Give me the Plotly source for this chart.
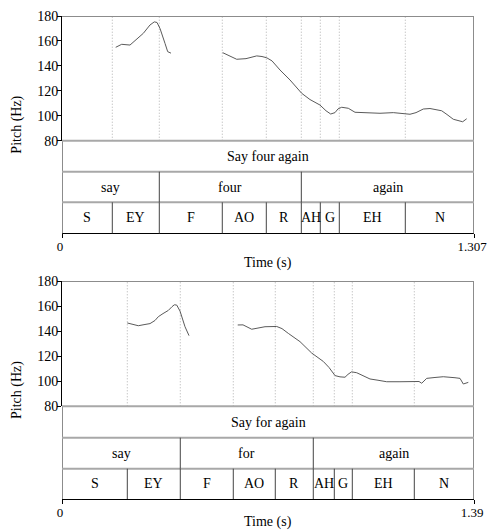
import plotly.graph_objects as go

# ---------------- data ----------------
# Chart 1: "Say four again"
dur1 = 1.307
pitch1_seg1_t = [0.1704, 0.1894, 0.2157, 0.2579, 0.2792, 0.2928, 0.3014, 0.3109, 0.3268, 0.3353, 0.3458]
pitch1_seg1_hz = [154.9, 157.3, 156.7, 166.1, 172.8, 175.3, 174.8, 170.0, 158.0, 151.4, 150.2]
pitch1_seg2_t = [0.5098, 0.5298, 0.5542, 0.5837, 0.6177, 0.6345, 0.6494, 0.6662, 0.6916, 0.7233,
                 0.7604, 0.7867, 0.8184, 0.8375, 0.8524, 0.8660, 0.8756, 0.8873, 0.9082, 0.9295,
                 0.9675, 1.0088, 1.0510, 1.0818, 1.1040, 1.1230, 1.1462, 1.1674, 1.2045, 1.2213,
                 1.2413, 1.2711, 1.2838]
pitch1_seg2_hz = [150.6, 148.0, 145.3, 145.8, 148.0, 147.5, 146.5, 144.0, 136.7, 128.7,
                  118.0, 113.0, 108.6, 104.0, 101.4, 102.5, 105.5, 106.8, 106.0, 102.8,
                  102.2, 102.0, 102.5, 101.8, 101.2, 102.5, 105.4, 105.8, 104.0, 101.0,
                  97.2, 95.2, 97.6]
sentence1 = "Say four again"
words1 = ["say", "four", "again"]
word_bounds1 = [0, 0.3087, 0.7592, 1.307]
phones1 = ["S", "EY", "F", "AO", "R", "AH", "G", "EH", "N"]
phone_bounds1 = [0, 0.1596, 0.3087, 0.5085, 0.6481, 0.7592, 0.8194, 0.8797, 1.0891, 1.307]

# Chart 2: "Say for again"
dur2 = 1.39
pitch2_seg1_t = [0.2203, 0.2362, 0.2574, 0.2800, 0.2969, 0.3138, 0.3249, 0.3408, 0.3586, 0.3711,
                 0.3789, 0.3870, 0.3981, 0.4150, 0.4285]
pitch2_seg1_hz = [146.5, 145.5, 144.3, 145.3, 146.0, 148.5, 151.5, 154.0, 156.5, 159.5,
                  161.0, 160.8, 156.0, 143.5, 136.4]
pitch2_seg2_t = [0.5928, 0.6107, 0.6400, 0.6613, 0.6849, 0.7244, 0.7422, 0.7635, 0.8030, 0.8424,
                 0.8816, 0.9008, 0.9211, 0.9379, 0.9548, 0.9649, 0.9767, 0.9943, 1.0121, 1.0391,
                 1.0661, 1.0955, 1.1403, 1.1808, 1.2045, 1.2136, 1.2304, 1.2584, 1.2864, 1.3259,
                 1.3428, 1.3539, 1.3708]
pitch2_seg2_hz = [144.9, 145.0, 141.5, 142.5, 143.5, 143.7, 142.0, 138.2, 131.6, 122.5,
                  115.8, 111.0, 104.5, 103.5, 103.2, 105.5, 107.5, 106.8, 105.0, 101.8,
                  100.8, 99.6, 99.6, 100.0, 99.8, 98.4, 102.3, 103.0, 103.6, 102.8,
                  102.3, 97.8, 99.1]
sentence2 = "Say for again"
words2 = ["say", "for", "again"]
word_bounds2 = [0, 0.3991, 0.8478, 1.39]
phones2 = ["S", "EY", "F", "AO", "R", "AH", "G", "EH", "N"]
phone_bounds2 = [0, 0.2203, 0.3991, 0.5779, 0.7196, 0.8478, 0.9187, 0.9794, 1.1886, 1.39]

pitch_ticks = [80, 100, 120, 140, 160, 180]

# ---------------- layout geometry (pixels) ----------------
W, H = 488, 531
ML, MR, MT, MB = 62, 14, 16, 32
PH = H - MT - MB


def py(p):
    """pixel y (from top) -> paper y"""
    return (H - MB - p) / PH


FONT = "Liberation Serif, Times New Roman, serif"
GRID_GREY = "#a8a8a8"
FRAME_GREY = "#8c8c8c"
CURVE = "#5a5a5a"

charts = [
    dict(dur=dur1, s1=(pitch1_seg1_t, pitch1_seg1_hz), s2=(pitch1_seg2_t, pitch1_seg2_hz),
         sentence=sentence1, words=words1, wb=word_bounds1, phones=phones1, pb=phone_bounds1,
         top=16, p80=140.7, t1=171.7, t2=202.3, t3=233.3, xlabel_y=263),
    dict(dur=dur2, s1=(pitch2_seg1_t, pitch2_seg1_hz), s2=(pitch2_seg2_t, pitch2_seg2_hz),
         sentence=sentence2, words=words2, wb=word_bounds2, phones=phones2, pb=phone_bounds2,
         top=281, p80=406.3, t1=437.7, t2=468.7, t3=499.0, xlabel_y=522),
]

fig = go.Figure()
shapes = []
annotations = []
layout_axes = {}

for i, c in enumerate(charts):
    n = "" if i == 0 else str(i + 1)
    xref = "x" + n
    yref = "y" + n
    t = list(c["s1"][0]) + [None] + list(c["s2"][0])
    v = list(c["s1"][1]) + [None] + list(c["s2"][1])
    fig.add_trace(go.Scatter(x=t, y=v, mode="lines", xaxis=xref, yaxis=yref,
                             line=dict(color=CURVE, width=1), connectgaps=False,
                             showlegend=False, hoverinfo="skip"))
    dur = c["dur"]
    layout_axes["xaxis" + n] = dict(
        domain=[0, 1], range=[0, dur], anchor="free", position=py(c["t3"]),
        tickvals=[0, dur], ticktext=["0", f"{dur:g}"], ticks="outside", ticklen=4,
        tickcolor="black", showline=True, linecolor="black", linewidth=1,
        showgrid=False, zeroline=False, automargin=False, ticklabelstandoff=-3,
        ticklabelshift=-2, ticklabeloverflow="allow",
        tickfont=dict(family=FONT, size=13, color="black"),
    )
    layout_axes["yaxis" + n] = dict(
        domain=[py(c["p80"]), py(c["top"])], range=[80, 180], anchor=xref,
        tickvals=pitch_ticks, ticks="outside", ticklen=4, tickcolor="black",
        showline=True, linecolor="black", linewidth=1, showgrid=False, zeroline=False,
        automargin=False, ticklabelstandoff=-4, ticklabeloverflow="allow",
        tickfont=dict(family=FONT, size=14, color="black"),
    )
    # dotted phone boundaries in pitch area
    for b in c["pb"][1:-1]:
        shapes.append(dict(type="line", xref=xref, yref=yref, x0=b, x1=b, y0=80, y1=180,
                           line=dict(color="#b0b0b0", width=1, dash="1px,2px"), layer="below"))
    # frame: top line, right edge, left edge of tiers
    shapes.append(dict(type="line", xref=xref, yref=yref, x0=0, x1=dur, y0=180, y1=180,
                       line=dict(color=FRAME_GREY, width=2)))
    shapes.append(dict(type="line", xref=xref, yref="paper", x0=dur, x1=dur,
                       y0=py(c["t3"]), y1=py(c["top"]), line=dict(color=FRAME_GREY, width=2)))
    shapes.append(dict(type="line", xref=xref, yref="paper", x0=0, x1=0,
                       y0=py(c["t3"]), y1=py(c["p80"]), line=dict(color=FRAME_GREY, width=2)))
    # tier separators
    for yy in (c["p80"], c["t1"], c["t2"]):
        shapes.append(dict(type="line", xref=xref, yref="paper", x0=0, x1=dur,
                           y0=py(yy), y1=py(yy), line=dict(color=GRID_GREY, width=2)))
    # word and phone boundaries
    for b in c["wb"][1:-1]:
        shapes.append(dict(type="line", xref=xref, yref="paper", x0=b, x1=b,
                           y0=py(c["t2"]), y1=py(c["t1"]), line=dict(color="#444444", width=1)))
    for b in c["pb"][1:-1]:
        shapes.append(dict(type="line", xref=xref, yref="paper", x0=b, x1=b,
                           y0=py(c["t3"]), y1=py(c["t2"]), line=dict(color="#444444", width=1)))
    # tier labels
    annotations.append(dict(text=c["sentence"], xref=xref, yref="paper", x=dur / 2,
                            y=py((c["p80"] + c["t1"]) / 2), showarrow=False,
                            yanchor="middle", font=dict(family=FONT, size=14, color="black")))
    for w, a, b in zip(c["words"], c["wb"][:-1], c["wb"][1:]):
        annotations.append(dict(text=w, xref=xref, yref="paper", x=(a + b) / 2,
                                y=py((c["t1"] + c["t2"]) / 2), showarrow=False,
                                yanchor="middle", font=dict(family=FONT, size=14, color="black")))
    for ph, a, b in zip(c["phones"], c["pb"][:-1], c["pb"][1:]):
        annotations.append(dict(text=ph, xref=xref, yref="paper", x=(a + b) / 2,
                                y=py((c["t2"] + c["t3"]) / 2), showarrow=False,
                                yanchor="middle", font=dict(family=FONT, size=14, color="black")))
    # axis titles
    annotations.append(dict(text="Pitch (Hz)", xref="paper", yref="paper", x=-(ML - 17) / (W - ML - MR),
                            y=py((c["top"] + c["t3"]) / 2), textangle=-90, showarrow=False,
                            xanchor="center", yanchor="middle",
                            font=dict(family=FONT, size=14, color="black")))
    annotations.append(dict(text="Time (s)", xref="paper", yref="paper", x=0.5,
                            y=py(c["xlabel_y"]), showarrow=False, yanchor="middle",
                            font=dict(family=FONT, size=14, color="black")))

fig.update_layout(
    width=W, height=H,
    margin=dict(l=ML, r=MR, t=MT, b=MB, autoexpand=False),
    paper_bgcolor="white", plot_bgcolor="white",
    shapes=shapes, annotations=annotations,
    showlegend=False,
    **layout_axes,
)

fig.write_html("out.html", config={"displayModeBar": False, "staticPlot": True},
               post_script="document.body.style.margin='0';document.body.style.overflow='hidden';")
